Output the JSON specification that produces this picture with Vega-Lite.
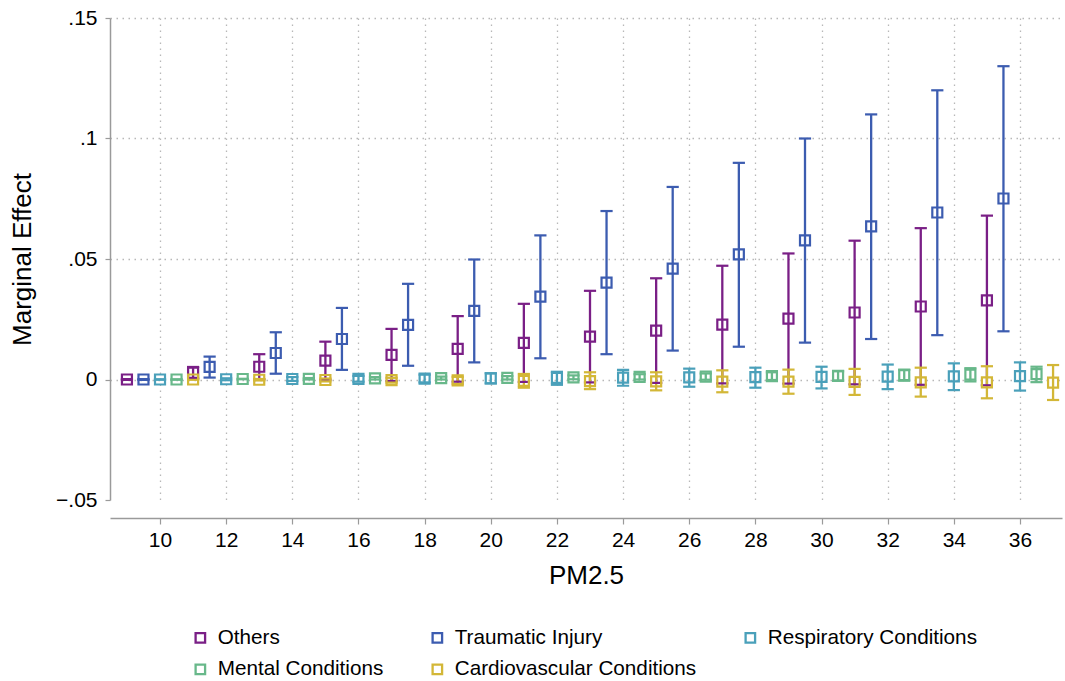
{
  "$schema": "https://vega.github.io/schema/vega-lite/v6.json",
  "autosize": {"type": "none"},
  "padding": {"left": 110, "top": 18, "right": 3, "bottom": 181},
  "width": 952,
  "height": 482,
  "background": "white",
  "config": {
    "font": "Liberation Sans",
    "view": {"stroke": null},
    "axis": {"labelFont": "Liberation Sans", "titleFont": "Liberation Sans", "labelColor": "#000000", "titleColor": "#000000", "titleFontWeight": "normal"}
  },
  "data": {"values": [
    {"series": "Others", "x": 9, "b": 0, "lo": -0.0002, "hi": 0.0002},
    {"series": "Others", "x": 11, "b": 0.0028, "lo": 0.0004, "hi": 0.0052},
    {"series": "Others", "x": 13, "b": 0.0053, "lo": 0.0001, "hi": 0.0105},
    {"series": "Others", "x": 15, "b": 0.0078, "lo": -0.0001, "hi": 0.0157},
    {"series": "Others", "x": 17, "b": 0.0102, "lo": -0.0006, "hi": 0.021},
    {"series": "Others", "x": 19, "b": 0.0127, "lo": -0.0009, "hi": 0.0263},
    {"series": "Others", "x": 21, "b": 0.0152, "lo": -0.001, "hi": 0.0314},
    {"series": "Others", "x": 23, "b": 0.0178, "lo": -0.0012, "hi": 0.0368},
    {"series": "Others", "x": 25, "b": 0.0203, "lo": -0.0014, "hi": 0.042},
    {"series": "Others", "x": 27, "b": 0.0228, "lo": -0.0016, "hi": 0.0472},
    {"series": "Others", "x": 29, "b": 0.0253, "lo": -0.0017, "hi": 0.0523},
    {"series": "Others", "x": 31, "b": 0.0278, "lo": -0.002, "hi": 0.0576},
    {"series": "Others", "x": 33, "b": 0.0303, "lo": -0.0022, "hi": 0.0628},
    {"series": "Others", "x": 35, "b": 0.0328, "lo": -0.0024, "hi": 0.068},
    {"series": "Traumatic Injury", "x": 9.5, "b": 0, "lo": -0.0002, "hi": 0.0002},
    {"series": "Traumatic Injury", "x": 11.5, "b": 0.0052, "lo": 0.0008, "hi": 0.0095},
    {"series": "Traumatic Injury", "x": 13.5, "b": 0.011, "lo": 0.0024, "hi": 0.0196},
    {"series": "Traumatic Injury", "x": 15.5, "b": 0.0168, "lo": 0.004, "hi": 0.0297},
    {"series": "Traumatic Injury", "x": 17.5, "b": 0.0227, "lo": 0.0057, "hi": 0.0397},
    {"series": "Traumatic Injury", "x": 19.5, "b": 0.0285, "lo": 0.0071, "hi": 0.0498},
    {"series": "Traumatic Injury", "x": 21.5, "b": 0.0344, "lo": 0.0088, "hi": 0.0598},
    {"series": "Traumatic Injury", "x": 23.5, "b": 0.0402, "lo": 0.0105, "hi": 0.0699},
    {"series": "Traumatic Injury", "x": 25.5, "b": 0.046, "lo": 0.012, "hi": 0.0799},
    {"series": "Traumatic Injury", "x": 27.5, "b": 0.0519, "lo": 0.0136, "hi": 0.0899},
    {"series": "Traumatic Injury", "x": 29.5, "b": 0.0577, "lo": 0.0153, "hi": 0.1},
    {"series": "Traumatic Injury", "x": 31.5, "b": 0.0635, "lo": 0.0168, "hi": 0.11},
    {"series": "Traumatic Injury", "x": 33.5, "b": 0.0693, "lo": 0.0184, "hi": 0.12},
    {"series": "Traumatic Injury", "x": 35.5, "b": 0.0751, "lo": 0.02, "hi": 0.13},
    {"series": "Respiratory Conditions", "x": 10, "b": 0, "lo": -0.0001, "hi": 0.0001},
    {"series": "Respiratory Conditions", "x": 12, "b": 0.0001, "lo": -0.0003, "hi": 0.0005},
    {"series": "Respiratory Conditions", "x": 14, "b": 0.0002, "lo": -0.0006, "hi": 0.001},
    {"series": "Respiratory Conditions", "x": 16, "b": 0.0003, "lo": -0.0009, "hi": 0.0015},
    {"series": "Respiratory Conditions", "x": 18, "b": 0.0004, "lo": -0.0012, "hi": 0.002},
    {"series": "Respiratory Conditions", "x": 20, "b": 0.0005, "lo": -0.0016, "hi": 0.0026},
    {"series": "Respiratory Conditions", "x": 22, "b": 0.0007, "lo": -0.0022, "hi": 0.0032},
    {"series": "Respiratory Conditions", "x": 24, "b": 0.0008, "lo": -0.0026, "hi": 0.004},
    {"series": "Respiratory Conditions", "x": 26, "b": 0.0009, "lo": -0.003, "hi": 0.0045},
    {"series": "Respiratory Conditions", "x": 28, "b": 0.001, "lo": -0.0034, "hi": 0.0049},
    {"series": "Respiratory Conditions", "x": 30, "b": 0.0011, "lo": -0.0037, "hi": 0.0053},
    {"series": "Respiratory Conditions", "x": 32, "b": 0.0012, "lo": -0.004, "hi": 0.0062},
    {"series": "Respiratory Conditions", "x": 34, "b": 0.0013, "lo": -0.0044, "hi": 0.0067},
    {"series": "Respiratory Conditions", "x": 36, "b": 0.0014, "lo": -0.0046, "hi": 0.0071},
    {"series": "Mental Conditions", "x": 10.5, "b": 0, "lo": -0.0001, "hi": 0.0001},
    {"series": "Mental Conditions", "x": 12.5, "b": 0.0002, "lo": 0.0001, "hi": 0.0003},
    {"series": "Mental Conditions", "x": 14.5, "b": 0.0003, "lo": 0, "hi": 0.0006},
    {"series": "Mental Conditions", "x": 16.5, "b": 0.0005, "lo": 0, "hi": 0.001},
    {"series": "Mental Conditions", "x": 18.5, "b": 0.0006, "lo": 0, "hi": 0.0012},
    {"series": "Mental Conditions", "x": 20.5, "b": 0.0007, "lo": 0, "hi": 0.0014},
    {"series": "Mental Conditions", "x": 22.5, "b": 0.0009, "lo": 0.0001, "hi": 0.0017},
    {"series": "Mental Conditions", "x": 24.5, "b": 0.0011, "lo": 0, "hi": 0.0022},
    {"series": "Mental Conditions", "x": 26.5, "b": 0.0012, "lo": -0.0001, "hi": 0.0025},
    {"series": "Mental Conditions", "x": 28.5, "b": 0.0014, "lo": -0.0002, "hi": 0.003},
    {"series": "Mental Conditions", "x": 30.5, "b": 0.0015, "lo": -0.0004, "hi": 0.0034},
    {"series": "Mental Conditions", "x": 32.5, "b": 0.0018, "lo": -0.0005, "hi": 0.0041},
    {"series": "Mental Conditions", "x": 34.5, "b": 0.002, "lo": -0.0008, "hi": 0.0047},
    {"series": "Mental Conditions", "x": 36.5, "b": 0.0022, "lo": -0.0011, "hi": 0.0053},
    {"series": "Cardiovascular Conditions", "x": 11, "b": 0, "lo": -0.0001, "hi": 0.0001},
    {"series": "Cardiovascular Conditions", "x": 13, "b": -0.0001, "lo": -0.0004, "hi": 0.0002},
    {"series": "Cardiovascular Conditions", "x": 15, "b": -0.0002, "lo": -0.0008, "hi": 0.0004},
    {"series": "Cardiovascular Conditions", "x": 17, "b": -0.0003, "lo": -0.0013, "hi": 0.0007},
    {"series": "Cardiovascular Conditions", "x": 19, "b": -0.0004, "lo": -0.0019, "hi": 0.0011},
    {"series": "Cardiovascular Conditions", "x": 21, "b": -0.0006, "lo": -0.0034, "hi": 0.0023},
    {"series": "Cardiovascular Conditions", "x": 23, "b": -0.0007, "lo": -0.004, "hi": 0.003},
    {"series": "Cardiovascular Conditions", "x": 25, "b": -0.0008, "lo": -0.0045, "hi": 0.003},
    {"series": "Cardiovascular Conditions", "x": 27, "b": -0.0009, "lo": -0.0053, "hi": 0.0038},
    {"series": "Cardiovascular Conditions", "x": 29, "b": -0.0009, "lo": -0.0059, "hi": 0.0041},
    {"series": "Cardiovascular Conditions", "x": 31, "b": -0.001, "lo": -0.0064, "hi": 0.0044},
    {"series": "Cardiovascular Conditions", "x": 33, "b": -0.0012, "lo": -0.0071, "hi": 0.0049},
    {"series": "Cardiovascular Conditions", "x": 35, "b": -0.0012, "lo": -0.0078, "hi": 0.0055},
    {"series": "Cardiovascular Conditions", "x": 37, "b": -0.0013, "lo": -0.0085, "hi": 0.006}
  ]},
  "encoding": {
    "x": {
      "field": "x", "type": "quantitative",
      "scale": {"domain": [8.488, 37.27], "nice": false, "zero": false},
      "axis": {
        "title": "PM2.5", "titleFontSize": 26, "titlePadding": 12,
        "values": [10, 12, 14, 16, 18, 20, 22, 24, 26, 28, 30, 32, 34, 36],
        "labelFontSize": 21, "labelPadding": 5, "labelFlush": false,
        "offset": 18, "domainColor": "#9a9a9a", "domainWidth": 1.5,
        "tickColor": "#9a9a9a", "tickSize": 6, "tickWidth": 1.2,
        "grid": true, "gridColor": "#b8b8b8", "gridDash": [1.5, 4.5], "gridWidth": 1.3
      }
    },
    "color": {
      "field": "series", "type": "nominal",
      "scale": {
        "domain": ["Others", "Mental Conditions", "Traumatic Injury", "Cardiovascular Conditions", "Respiratory Conditions"],
        "range": ["#7a1f86", "#68b88a", "#3c5cb0", "#d3b737", "#4aa0ba"]
      },
      "legend": {
        "title": null, "orient": "none", "legendX": 80, "legendY": 609,
        "columns": 3, "columnPadding": 43, "rowPadding": 10,
        "symbolType": "square", "symbolSize": 90, "symbolStrokeWidth": 2.3,
        "symbolFillColor": "white", "symbolOpacity": 1,
        "labelFontSize": 20.7, "labelFont": "Liberation Sans", "labelColor": "#000000",
        "labelOffset": 7, "labelLimit": 400
      }
    }
  },
  "layer": [
    {
      "mark": {"type": "rule", "strokeWidth": 2.3},
      "encoding": {
        "y": {
          "field": "lo", "type": "quantitative",
          "scale": {"domain": [-0.05, 0.15], "nice": false, "zero": false},
          "axis": {
            "title": "Marginal Effect", "titleFontSize": 26, "titlePadding": 20,
            "values": [-0.05, 0, 0.05, 0.1, 0.15],
            "labelExpr": "datum.value == 0 ? '0' : replace(format(datum.value, '.2~f'), '0.', '.')",
            "labelFontSize": 21, "labelPadding": 8, "labelFlush": false,
            "domainColor": "#9a9a9a", "domainWidth": 1.5,
            "tickColor": "#9a9a9a", "tickSize": 5, "tickWidth": 1.2,
            "grid": true, "gridColor": "#b8b8b8", "gridDash": [1.5, 4.5], "gridWidth": 1.3,
            "gridOpacity": {"condition": {"test": "datum.value < -0.04", "value": 0}, "value": 1}
          }
        },
        "y2": {"field": "hi"}
      }
    },
    {
      "mark": {"type": "tick", "orient": "horizontal", "size": 10, "thickness": 0.01, "filled": false, "strokeWidth": 2.2, "opacity": 1},
      "encoding": {"y": {"field": "lo", "type": "quantitative"}}
    },
    {
      "mark": {"type": "tick", "orient": "horizontal", "size": 10, "thickness": 0.01, "filled": false, "strokeWidth": 2.2, "opacity": 1},
      "encoding": {"y": {"field": "hi", "type": "quantitative"}}
    },
    {
      "mark": {"type": "point", "shape": "square", "filled": false, "size": 100, "strokeWidth": 2.2, "opacity": 1},
      "encoding": {
        "y": {"field": "b", "type": "quantitative"}
      }
    }
  ]
}
